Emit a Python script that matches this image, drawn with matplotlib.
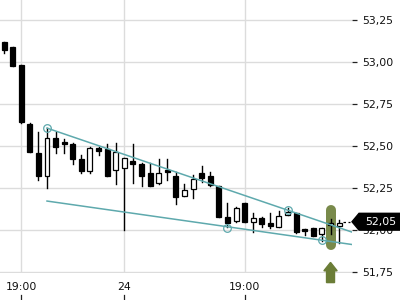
import matplotlib.pyplot as plt
import matplotlib.patches as patches
import matplotlib.transforms as mtransforms
import numpy as np

# ============================================================
# Candlestick chart with falling wedge + buy signal
# ============================================================

opens = [53.119, 53.089, 52.982, 52.631, 52.458, 52.321, 52.548, 52.521, 52.512, 52.423,
         52.351, 52.488, 52.482, 52.357, 52.369, 52.411, 52.393, 52.339, 52.280, 52.357,
         52.321, 52.202, 52.244, 52.339, 52.321, 52.262, 52.077, 52.054, 52.161, 52.048,
         52.071, 52.042, 52.018, 52.089, 52.101, 52.006, 52.012, 51.976, 52.030, 52.025]
highs = [53.119, 53.089, 52.982, 52.637, 52.583, 52.607, 52.583, 52.542, 52.518, 52.446,
         52.494, 52.494, 52.512, 52.518, 52.429, 52.512, 52.399, 52.399, 52.423, 52.423,
         52.345, 52.274, 52.327, 52.381, 52.345, 52.262, 52.161, 52.137, 52.161, 52.101,
         52.077, 52.101, 52.113, 52.131, 52.101, 52.006, 52.012, 52.012, 52.065, 52.060]
lows = [53.054, 52.976, 52.637, 52.464, 52.298, 52.250, 52.458, 52.458, 52.393, 52.339,
        52.339, 52.446, 52.321, 52.274, 52.000, 52.280, 52.262, 52.262, 52.274, 52.298,
        52.155, 52.202, 52.190, 52.286, 52.262, 52.077, 52.018, 52.048, 52.048, 51.988,
        52.018, 52.012, 52.018, 52.089, 51.982, 51.970, 51.964, 51.935, 51.976, 51.923]
closes = [53.071, 52.976, 52.643, 52.464, 52.321, 52.548, 52.494, 52.515, 52.423, 52.351,
          52.488, 52.470, 52.321, 52.464, 52.429, 52.393, 52.321, 52.262, 52.339, 52.345,
          52.196, 52.238, 52.304, 52.310, 52.268, 52.077, 52.042, 52.131, 52.048, 52.071,
          52.036, 52.024, 52.083, 52.107, 51.988, 51.994, 51.964, 52.012, 52.042, 52.045]

time_ticks = [2, 14, 28]
time_labels = ['19:00', '24', '19:00']

price_ticks = [51.75, 52.00, 52.25, 52.50, 52.75, 53.00, 53.25]

# wedge trendlines (anchor points) and touch points
upper_x = [5, 33]
upper_y = [52.607, 52.119]
lower_x = [5, 37]
lower_y = [52.173, 51.940]
touch_x = [5, 33, 26, 37]
touch_y = [52.607, 52.119, 52.012, 51.940]

signal_bar = 38
last_price = 52.05

# Colors
line_color = '#5ea9ad'
signal_color = '#6b7d37'
grid_color = '#dcdcdc'

fig = plt.figure(figsize=(4, 3), dpi=100)
ax = fig.add_axes([0, 27 / 300, 352 / 400, 273 / 300])
ax.set_xlim(-0.47, 40.5)
ax.set_ylim(51.745, 53.369)
for s in ax.spines.values():
    s.set_visible(False)

# grid
ax.set_yticks(price_ticks)
ax.set_yticklabels([f'{v:.2f}'.replace('.', ',') for v in price_ticks])
ax.set_xticks(time_ticks)
ax.set_xticklabels(time_labels)
ax.grid(True, color=grid_color, linewidth=1)
ax.set_axisbelow(True)
ax.yaxis.tick_right()
ax.tick_params(axis='y', length=3.6, width=0.9, color='#222222', pad=3.6,
               labelsize=7.8, labelcolor='#111111')
ax.tick_params(axis='x', length=0, pad=6.5, labelsize=7.8, labelcolor='#111111')

# small tick marks under the time labels
blend = mtransforms.blended_transform_factory(ax.transData, ax.transAxes)
for t in time_ticks:
    ax.plot([t, t], [-0.081, -0.1], color='#222222', lw=0.9,
            transform=blend, clip_on=False)

# signal highlight behind candle
hl_top = 52.12
hl_bot = 51.91
ax.plot([signal_bar, signal_bar], [hl_bot, hl_top], color=signal_color,
        lw=7.2, solid_capstyle='round', alpha=0.9, zorder=1)

# candles
body_w = 0.58
for i, (o, h, l, c) in enumerate(zip(opens, highs, lows, closes)):
    ax.plot([i, i], [l, h], color='black', lw=1, zorder=3)
    bottom = min(o, c)
    height = max(abs(c - o), 0.012)
    if c < o:
        face = 'black'
    else:
        face = 'white'
    rect = patches.Rectangle((i - body_w / 2, bottom), body_w, height,
                             facecolor=face, edgecolor='black', linewidth=0.9, zorder=4)
    ax.add_patch(rect)

# trendlines
x_end = 40.5
up_slope = (upper_y[1] - upper_y[0]) / (upper_x[1] - upper_x[0])
lo_slope = (lower_y[1] - lower_y[0]) / (lower_x[1] - lower_x[0])
ax.plot([upper_x[0], x_end], [upper_y[0], upper_y[0] + up_slope * (x_end - upper_x[0])],
        color=line_color, lw=1.1, zorder=5)
ax.plot([lower_x[0], x_end], [lower_y[0], lower_y[0] + lo_slope * (x_end - lower_x[0])],
        color=line_color, lw=1.1, zorder=5)
ax.plot(touch_x, touch_y, 'o', markersize=5.5, markerfacecolor='none',
        markeredgecolor=line_color, markeredgewidth=0.9, zorder=6)

# buy arrow below the signal candle
arrow = patches.FancyArrow(signal_bar, 51.688, 0, 0.07, width=0.93,
                           head_width=1.55, head_length=0.05,
                           length_includes_head=False, color=signal_color,
                           clip_on=False, zorder=5)
ax.add_patch(arrow)

# last price tag
tag_tf = mtransforms.blended_transform_factory(ax.transAxes, ax.transData)
tag_h = 0.05
tag = patches.Polygon([(1.0, last_price), (1.02, last_price + tag_h),
                       (1.14, last_price + tag_h), (1.14, last_price - tag_h),
                       (1.02, last_price - tag_h)],
                      closed=True, facecolor='black', edgecolor='black',
                      transform=tag_tf, clip_on=False, zorder=10)
ax.add_patch(tag)
ax.plot([0.975, 0.995], [last_price, last_price], color='black', lw=0.9,
        linestyle=(0, (2, 2)), transform=tag_tf, clip_on=False, zorder=10)
ax.text(1.082, last_price, f'{last_price:.2f}'.replace('.', ','), color='white',
        fontsize=7.8, ha='center', va='center', transform=tag_tf, zorder=11)

plt.savefig('out.png', dpi=100)
plt.close()
